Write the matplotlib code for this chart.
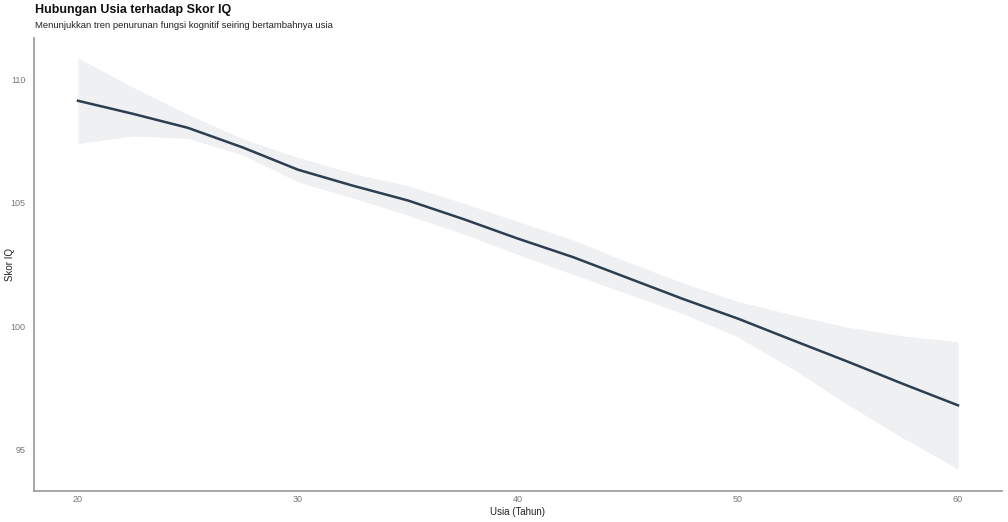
import matplotlib
matplotlib.use("Agg")
import matplotlib.pyplot as plt

plt.rcParams['font.family'] = ['Liberation Sans', 'DejaVu Sans']

age = [20, 22.5, 25, 27.5, 30, 32.5, 35, 37.5, 40, 42.5, 45, 47.5, 50, 52.5, 55, 57.5, 60]
iq_fit = [109.15, 108.62, 108.05, 107.25, 106.35, 105.7, 105.1, 104.35, 103.55,
          102.8, 101.95, 101.1, 100.3, 99.42, 98.55, 97.65, 96.78]
iq_upper = [110.89, 109.7, 108.6, 107.6, 106.85, 106.2, 105.7, 105.0, 104.25,
            103.5, 102.6, 101.75, 101.0, 100.45, 99.95, 99.6, 99.37]
iq_lower = [107.41, 107.72, 107.62, 106.95, 105.85, 105.2, 104.5, 103.75, 102.9,
            102.1, 101.3, 100.5, 99.55, 98.25, 96.8, 95.45, 94.19]
x_ticks = [20, 30, 40, 50, 60]
y_ticks = [95, 100, 105, 110]

fig = plt.figure(figsize=(10.08, 5.22), dpi=100)
ax = fig.add_axes([34/1008, 31/522, 968/1008, 453/522])

ax.fill_between(age, iq_lower, iq_upper, color='#EEF0F2', linewidth=0)
ax.plot(age, iq_fit, color='#2C3E50', linewidth=1.8)

ax.set_xlim(18, 62)
ax.set_ylim(93.3, 111.7)
ax.set_xticks(x_ticks)
ax.set_yticks(y_ticks)
ax.tick_params(length=0, labelsize=6.5, labelcolor='#777777')
ax.tick_params(axis='x', pad=3)
ax.tick_params(axis='y', pad=6)

for s in ['top', 'right']:
    ax.spines[s].set_visible(False)
for s in ['left', 'bottom']:
    ax.spines[s].set_color('#A0A0A0')
    ax.spines[s].set_linewidth(1.3)

ax.set_xlabel('Usia (Tahun)', fontsize=7, color='#222222', va='center')
ax.xaxis.set_label_coords(0.5, (491 - 512) / 453)
ax.set_ylabel('Skor IQ', fontsize=7, color='#222222', va='center')
ax.yaxis.set_label_coords((10 - 34) / 968, 0.5)

fig.text(35/1008, 1 - 10/522, 'Hubungan Usia terhadap Skor IQ', fontsize=9,
         fontweight='bold', color='#111111', va='center', ha='left')
fig.text(35/1008, 1 - 26/522, 'Menunjukkan tren penurunan fungsi kognitif seiring bertambahnya usia',
         fontsize=6.8, color='#222222', va='center', ha='left')

fig.savefig('out.png', dpi=100)
